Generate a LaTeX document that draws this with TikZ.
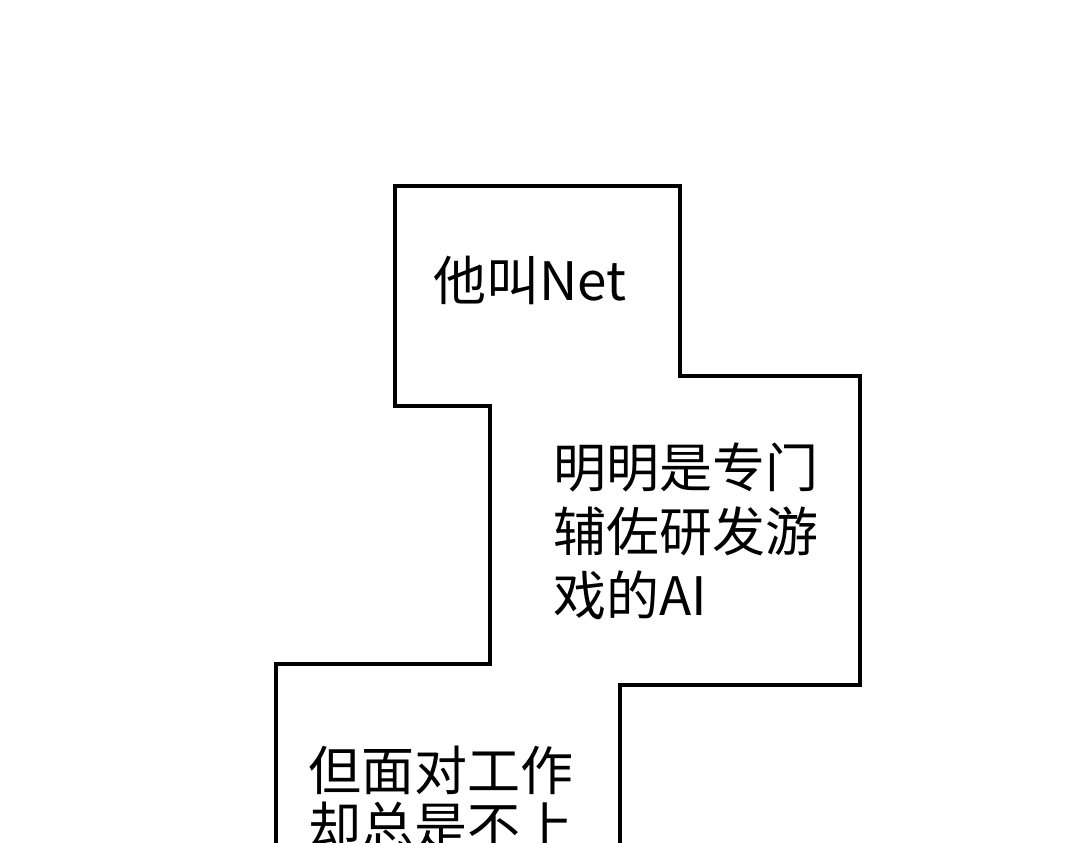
\documentclass[tikz,border=0pt]{standalone}
\usepackage{fontspec}
\setmainfont{Noto Sans CJK SC}
\tikzset{
    panel/.style={line width=4pt, line join=miter},
    caption/.style={anchor=base west, inner sep=0pt, align=left,
        font=\fontsize{53}{64}\selectfont}
}

\begin{document}
\begin{tikzpicture}[x=1pt,y=-1pt]
                \useasboundingbox (0,0) rectangle (1080,843);
                \clip (0,0) rectangle (1080,843);

                \draw[panel] (276,860) -- (276,664) -- (490,664) -- (490,406)
                    -- (395,406) -- (395,186) -- (680,186) -- (680,376)
                    -- (860,376) -- (860,685) -- (620,685) -- (620,860);

                % base anchor sits on the last line of each caption
                \node[caption] (name) at (433,300) {他叫Net};
                \node[caption] (role) at (553,615) {明明是专门\\辅佐研发游\\戏的AI};
                \node[caption, font=\fontsize{53}{56}\selectfont] (work) at (308,846) {但面对工作\\却总是不上};
            \end{tikzpicture}
\end{document}
